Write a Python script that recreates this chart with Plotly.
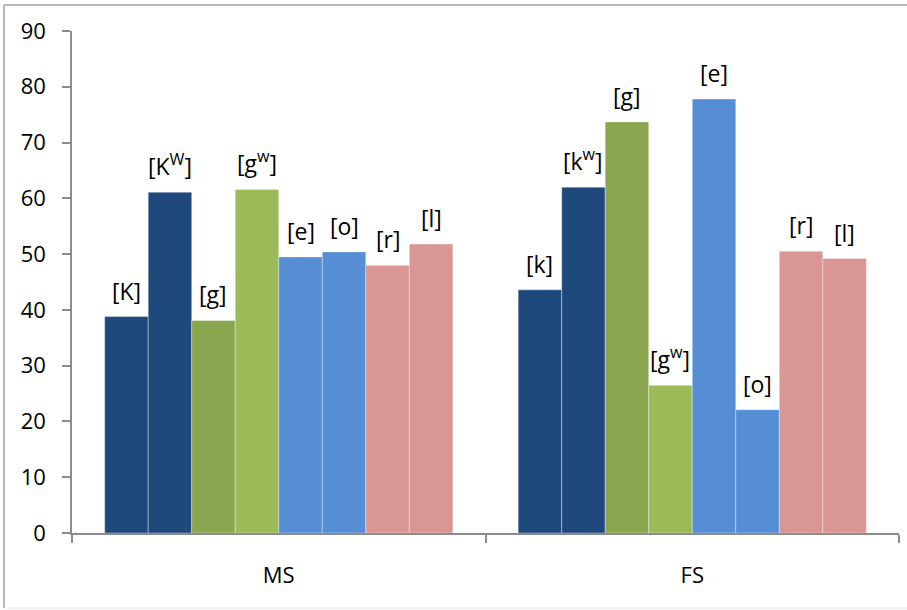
import plotly.graph_objects as go

# Speaker groups on the category axis
groups = ["MS", "FS"]

# One series per segment, in drawing order within each group
series_names = ["K", "Kw", "g", "gw", "e", "o", "r", "l"]
ms_values = [38.8, 61.1, 38.1, 61.6, 49.5, 50.4, 48.0, 51.8]
fs_values = [43.6, 62.0, 73.7, 26.5, 77.8, 22.1, 50.5, 49.2]

# Segment labels shown above each bar
ms_labels = ["[K]", "[K<sup>W</sup>]", "[g]", "[g<sup>w</sup>]", "[e]", "[o]", "[r]", "[l]"]
fs_labels = ["[k]", "[k<sup>w</sup>]", "[g]", "[g<sup>w</sup>]", "[e]", "[o]", "[r]", "[l]"]

colors = ["#1F497D", "#1F497D", "#8AA64E", "#9BBB59",
          "#558ED5", "#558ED5", "#D99694", "#D99694"]

y_ticks = [0, 10, 20, 30, 40, 50, 60, 70, 80, 90]

W, H = 907, 610
M_L, M_R, M_T, M_B = 72, 8, 31, 77
BARGAP = 0.158
FONT = "Open Sans"

fig = go.Figure()
for i, name in enumerate(series_names):
    fig.add_trace(go.Bar(
        name=name,
        x=groups,
        y=[ms_values[i], fs_values[i]],
        marker=dict(color=colors[i], line=dict(color="rgba(255,255,255,0.35)", width=1)),
        showlegend=False,
    ))

# Labels centred over each bar of the grouped layout
n = len(series_names)
bar_w = (1 - BARGAP) / n
annotations = []
for gi, (vals, labs) in enumerate([(ms_values, ms_labels), (fs_values, fs_labels)]):
    for i in range(n):
        xc = gi - (1 - BARGAP) / 2 + (i + 0.5) * bar_w
        annotations.append(dict(
            x=xc, y=vals[i], xref="x", yref="y", text=labs[i],
            showarrow=False, yanchor="bottom", yshift=8,
            font=dict(family=FONT, size=23, color="#000000"),
        ))

# Outer frame of the chart (left, top, bottom edges)
pw = W - M_L - M_R
ph = H - M_T - M_B


def px_x(p):
    return (p - M_L) / pw


def px_y(p):
    return (H - M_B - p) / ph


frame = dict(type="line", xref="paper", yref="paper", line=dict(color="#A0A0A0", width=1.5))
shapes = [
    dict(frame, x0=px_x(4), x1=px_x(4), y0=px_y(5), y1=px_y(608)),
    dict(frame, x0=px_x(4), x1=px_x(907), y0=px_y(5), y1=px_y(5)),
    dict(frame, x0=px_x(4), x1=px_x(907), y0=px_y(608), y1=px_y(608),
         line=dict(color="#E6E6E6", width=1)),
]

fig.update_layout(
    width=W, height=H,
    margin=dict(l=M_L, r=M_R, t=M_T, b=M_B, pad=0),
    paper_bgcolor="white", plot_bgcolor="white",
    barmode="group", bargap=BARGAP, bargroupgap=0,
    annotations=annotations, shapes=shapes,
    font=dict(family=FONT, color="#000000"),
    xaxis=dict(
        type="category", showline=True, linecolor="#8C8C8C", linewidth=1.5,
        ticks="outside", tickson="boundaries", ticklen=8, tickcolor="#8C8C8C", tickwidth=1.5,
        tickfont=dict(family=FONT, size=22), ticklabelstandoff=22,
        showgrid=False, zeroline=False,
    ),
    yaxis=dict(
        range=[0, 90], tickvals=y_ticks, showline=True, linecolor="#8C8C8C", linewidth=1.5,
        ticks="outside", ticklen=8, tickcolor="#8C8C8C", tickwidth=1.5,
        tickfont=dict(family=FONT, size=22), ticklabelstandoff=12,
        showgrid=False, zeroline=False,
    ),
)

fig.write_html("out.html")
